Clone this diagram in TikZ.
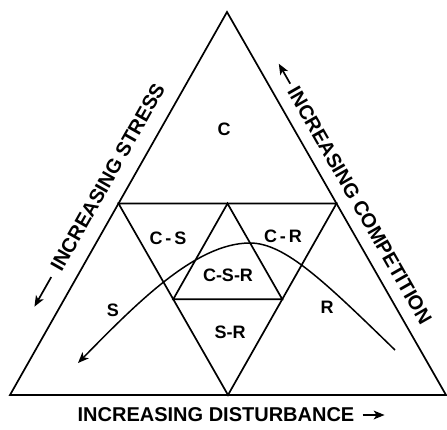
\documentclass[tikz,border=0pt]{standalone}
\usepackage{fontspec}
\setmainfont{Liberation Sans}
\usetikzlibrary{calc}

% filled dart head: #1 tip, #2 a point behind the tip
\newcommand\darthead[2]{%
  \fill ($(#1)!11pt!(#2)!4.5pt!90:(#1)$) -- (#1) -- ($(#1)!11pt!(#2)!4.5pt!-90:(#1)$)
        -- ($(#1)!8pt!(#2)$) -- cycle;}

\begin{document}
\begin{tikzpicture}[
  x=1pt, y=1pt,
  ln/.style={line width=1.7pt, line join=miter},
  shaft/.style={line width=1.7pt},
  reg/.style={font=\fontsize{18}{20}\selectfont\bfseries, inner sep=0pt},
  axlbl/.style={font=\fontsize{20}{24}\selectfont\bfseries, inner sep=0pt},
]
\useasboundingbox (0,0) rectangle (447,429);

% ================= triangles =================
\coordinate (top) at (227,417);
\coordinate (bl) at (10,34);
\coordinate (br) at (446,34);
% midpoints of the outer sides
\coordinate (ml) at ($(top)!0.5!(bl)$);
\coordinate (mr) at ($(top)!0.5!(br)$);
\coordinate (mb) at ($(bl)!0.5!(br)$);
% inner triangle
\coordinate (it) at ($(ml)!0.5!(mr)$);
\coordinate (il) at ($(ml)!0.5!(mb)$);
\coordinate (ir) at ($(mr)!0.5!(mb)$);

\draw[ln] (top) -- (bl) -- (br) -- cycle;
\draw[ln] (ml) -- (mr) -- (mb) -- cycle;
\draw[ln] (it) -- (il) -- (ir) -- cycle;

% ================= region labels =================
\node[reg] (c) at (224,300) {C};
\node[reg] (cs) at (168,191) {C\,-\,S};
\node[reg] (cr) at (283,193) {C\,-\,R};
\node[reg] (csr) at (228,154) {C-S-R};
\node[reg] (sr) at (230,97) {S-R};
\node[reg] (s) at (113,119) {S};
\node[reg] (r) at (327,122) {R};

% ================= curve =================
\coordinate (cstart) at (395,79);
\coordinate (cend) at (78,66);
\draw[shaft, line width=1.5pt] (cstart) .. controls (325,147) and (285,186) .. (250,186)
      .. controls (195,186) and (135,124) .. ($(cend)!5pt!(135,124)$);
\darthead{cend}{135,124}

% ================= axis labels =================
\path (bl) -- (top) node[axlbl, pos=0.54, sloped, above=15pt] (stress) {INCREASING STRESS};
\path (top) -- (br) node[axlbl, pos=0.53, sloped, above=12pt] (comp) {INCREASING COMPETITION};
\node[axlbl] (dist) at (216,14) {INCREASING DISTURBANCE};

% arrows beside the labels
\coordinate (stail) at ($(stress.west)!-9pt!(stress.east)$);
\coordinate (stip) at ($(stress.west)!-43pt!(stress.east)$);
\coordinate (ctail) at ($(comp.west)!-5pt!(comp.east)$);
\coordinate (ctip) at ($(comp.west)!-28pt!(comp.east)$);
\coordinate (dtail) at ($(dist.east)+(8,0)$);
\coordinate (dtip) at ($(dtail)+(22,0)$);

\draw[shaft] (stail) -- ($(stip)!5pt!(stail)$);
\darthead{stip}{stail}
\draw[shaft] (ctail) -- ($(ctip)!5pt!(ctail)$);
\darthead{ctip}{ctail}
\draw[shaft] (dtail) -- ($(dtip)!5pt!(dtail)$);
\darthead{dtip}{dtail}

\end{tikzpicture}
\end{document}
